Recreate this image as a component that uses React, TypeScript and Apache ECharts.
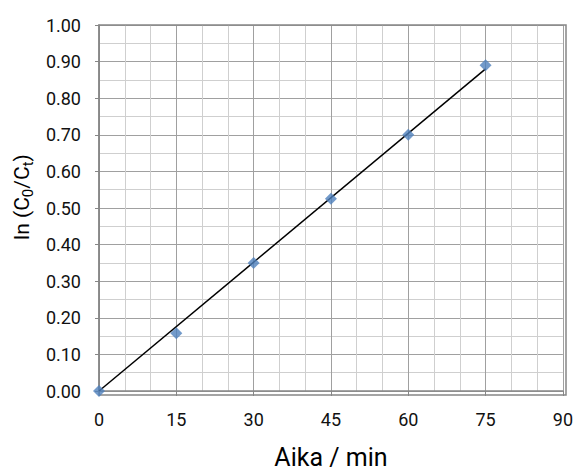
import React, { useEffect, useRef } from "react";
import * as echarts from "echarts";

const timeMin = [0, 15, 30, 45, 60, 75];
const lnRatio = [0, 0.158, 0.35, 0.525, 0.7, 0.89];
const trendX = [0, 75];
const trendY = [0, 0.88];

export default function App() {
  const ref = useRef<HTMLDivElement>(null);
  useEffect(() => {
    if (!ref.current) return;
    const chart = echarts.init(ref.current, null, { renderer: "svg" });
    const font = "Roboto";
    chart.setOption({
      animation: false,
      grid: { left: 99, right: 10, top: 25, bottom: 80, containLabel: false },
      xAxis: {
        type: "value",
        min: 0,
        max: 90,
        interval: 15,
        name: "Aika / min",
        nameLocation: "middle",
        nameGap: 54,
        nameTextStyle: { fontFamily: font, fontSize: 25, color: "#000" },
        axisLine: { show: true, lineStyle: { color: "#868686", width: 1.5 } },
        axisTick: { show: true, length: 5, lineStyle: { color: "#868686" } },
        axisLabel: { fontFamily: font, fontSize: 18, color: "#111", margin: 19 },
        splitLine: { show: true, lineStyle: { color: "#a0a0a0", width: 1 } },
        minorTick: { show: false, splitNumber: 3 },
        minorSplitLine: { show: true, lineStyle: { color: "#cfcfcf", width: 1 } },
      },
      yAxis: {
        type: "value",
        min: 0,
        max: 1,
        interval: 0.1,
        name: "{n|ln (C}{s|0}{n|/C}{s|t}{n|)}",
        nameLocation: "middle",
        nameGap: 64,
        nameTextStyle: {
          padding: [0, 0, 0, 22],
          rich: {
            n: { fontFamily: font, fontSize: 21, color: "#000" },
            s: { fontFamily: font, fontSize: 15, color: "#000", verticalAlign: "bottom", padding: [12, 0, 0, 0] },
          },
        },
        axisLine: { show: true, lineStyle: { color: "#868686", width: 1.5 } },
        axisTick: { show: true, length: 4, lineStyle: { color: "#868686" } },
        axisLabel: {
          fontFamily: font,
          fontSize: 18,
          color: "#111",
          margin: 18,
          formatter: (v: number) => v.toFixed(2),
        },
        splitLine: { show: true, lineStyle: { color: "#a0a0a0", width: 1 } },
        minorTick: { show: false, splitNumber: 2 },
        minorSplitLine: { show: true, lineStyle: { color: "#cfcfcf", width: 1 } },
      },
      series: [
        {
          type: "line",
          data: trendX.map((x, i) => [x, trendY[i]]),
          symbol: "none",
          lineStyle: { color: "#000", width: 1.5 },
          z: 2,
        },
        {
          type: "scatter",
          data: timeMin.map((x, i) => [x, lnRatio[i]]),
          symbol: "diamond",
          symbolSize: 12,
          itemStyle: { color: "#4F81BD" },
          z: 3,
        },
      ],
      graphic: [
        {
          type: "rect",
          shape: { x: 99, y: 25, width: 467, height: 370 },
          style: { fill: "none", stroke: "#868686", lineWidth: 1.5 },
          z: 1,
          silent: true,
        },
      ],
    });
    return () => chart.dispose();
  }, []);
  return (
    <div
      ref={ref}
      style={{ position: "fixed", left: 0, top: 0, width: 576, height: 475, background: "#fff" }}
    />
  );
}
